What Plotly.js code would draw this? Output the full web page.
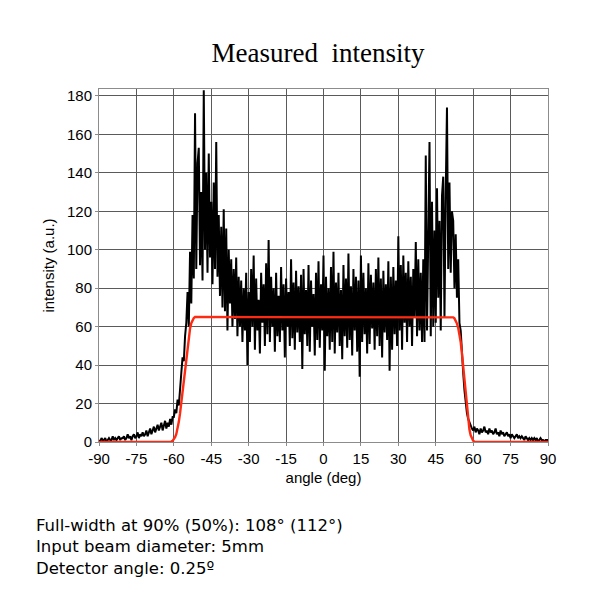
<!DOCTYPE html>
<html>
<head>
<meta charset="utf-8">
<script src="https://cdn.plot.ly/plotly-3.0.1.min.js"></script>
<style>html,body{margin:0;padding:0;background:#fff;}#chart{width:600px;height:600px;}</style>
</head>
<body>
<div id="chart"></div>
<script>
const angleStart = -90;
const angleStep = 0.5;
const measured = [
  // -90 .. -80.5
  1,0,2,1,1,2,0,1,2,1,1,3,1,2,1,2,3,1,2,2,
  // -80 .. -70.5
  3,1,2,4,2,3,1,3,4,2,3,5,2,4,3,5,3,4,6,3,
  // -70 .. -60.5
  5,7,4,6,8,5,7,9,6,8,10,6,9,11,7,10,8,12,9,13,
  // -60 .. -50.5
  13,17,15,22,19,30,36,44,42,55,62,78,60,99,72,118,85,171,90,145,
  // -50 .. -40.5
  153,92,130,84,183,100,140,88,150,96,125,82,135,90,156,86,118,76,112,70,
  // -40 .. -30.5
  121,68,111,58,100,72,95,60,90,64,96,55,86,60,84,52,80,58,88,40,
  // -30 .. -20.5
  78,52,90,60,97,48,85,58,74,46,88,62,82,50,93,56,105,52,86,60,
  // -20 .. -10.5
  80,47,88,55,76,52,91,58,82,44,85,60,78,50,95,54,83,48,89,57,
  // -10 .. -0.5
  81,52,87,38,90,56,79,50,92,47,84,60,77,45,88,53,94,49,82,58,
  // 0 .. 9.5
  97,37,86,55,80,48,91,52,99,46,83,57,88,50,79,43,92,55,85,49,
  // 10 .. 19.5
  98,53,81,45,90,58,86,47,84,34,97,52,88,56,80,46,93,51,87,59,
  // 20 .. 29.5
  83,48,90,55,96,50,85,44,89,57,82,53,94,37,86,48,91,56,84,50,
  // 30 .. 39.5
  107,58,92,48,97,62,88,52,94,60,86,50,90,65,104,55,95,58,88,52,
  // 40 .. 49.5
  95,52,149,58,118,156,55,125,60,110,62,132,75,115,58,128,138,65,130,174,
  // 50 .. 59.5
  90,135,88,120,115,80,108,75,95,62,58,44,36,27,20,15,12,10,8,7,
  // 60 .. 69.5
  6,8,5,7,6,4,7,5,6,8,5,6,4,7,5,6,4,5,7,4,
  // 70 .. 79.5
  5,3,6,4,5,3,4,5,3,4,2,4,3,2,3,4,2,3,2,3,
  // 80 .. 90
  2,1,3,2,1,2,1,2,1,2,1,2,0,1,2,1,1,0,1,1,1
];
const measuredAngles = measured.map((_, i) => angleStart + i * angleStep);

// Model (red) curve
const modelAngles = [-90,-61.5,-61,-60.5,-60,-59.5,-59,-58.5,-58,-57.5,-57,-56.5,-56,-55.5,-55,-54.5,-54,-53.5,-53,-52.5,-52,-51.5,
  51.5,52,52.5,53,53.5,54,54.5,55,55.5,56,56.5,57,57.5,58,58.5,59,59.5,60,60.5,61,90];
const modelValues = [0,0,0.2,0.6,1.3,2.5,4.2,7,10.5,15,20.5,26.5,33,39.5,45.5,51,55.5,59,61.8,63.6,64.5,65,
  65,64.8,64.3,63.2,61.6,59.4,56.5,52,46,39,31.5,24,17,11,6.5,3.5,1.7,0.7,0.2,0,0];

const xTicks = [-90,-75,-60,-45,-30,-15,0,15,30,45,60,75,90];
const yTicks = [0,20,40,60,80,100,120,140,160,180];
const titleText = 'Measured\u00a0\u00a0intensity';
const xTitle = 'angle (deg)';
const yTitle = 'intensity (a.u.)';
const notes = ['Full-width at 90% (50%): 108° (112°)', 'Input beam diameter: 5mm', 'Detector angle: 0.25º'];

const traces = [
  {x: measuredAngles, y: measured, type: 'scatter', mode: 'lines',
   line: {color: '#000000', width: 2}, hoverinfo: 'skip'},
  {x: modelAngles, y: modelValues, type: 'scatter', mode: 'lines',
   line: {color: '#ff2a12', width: 2.4}, hoverinfo: 'skip'}
];

const axisFont = {family: 'Liberation Sans, Arial, sans-serif', size: 15, color: '#000'};
const layout = {
  width: 600, height: 600,
  margin: {l: 99, r: 52, t: 89, b: 158},
  paper_bgcolor: '#fff', plot_bgcolor: '#fff',
  showlegend: false,
  title: {text: titleText, font: {family: 'Liberation Serif, Times New Roman, serif', size: 27, color: '#000'},
          x: 0.53, xref: 'container', xanchor: 'center', y: 0.912, yref: 'container', yanchor: 'middle'},
  xaxis: {range: [-90, 90], tickvals: xTicks, ticktext: xTicks.map(String), tickfont: axisFont,
          showgrid: true, gridcolor: '#5a5a5a', gridwidth: 1, zeroline: false,
          showline: true, linecolor: '#8c8c8c', linewidth: 1, mirror: true,
          ticks: 'outside', ticklen: 3, tickcolor: '#8c8c8c',
          title: {text: xTitle, font: axisFont, standoff: 6}},
  yaxis: {range: [0, 183.6], tickvals: yTicks, ticktext: yTicks.map(String), tickfont: axisFont,
          showgrid: true, gridcolor: '#5a5a5a', gridwidth: 1, zeroline: false,
          showline: true, linecolor: '#8c8c8c', linewidth: 1, mirror: true,
          ticks: 'outside', ticklen: 3, tickcolor: '#8c8c8c',
          title: {text: yTitle, font: axisFont, standoff: 8}},
  annotations: notes.map((t, i) => ({
    text: t, xref: 'paper', yref: 'paper', x: -0.145, y: -0.236 - i * 0.0607,
    xanchor: 'left', yanchor: 'middle', showarrow: false,
    font: {family: 'DejaVu Sans, Verdana, sans-serif', size: 16.5, color: '#000'}
  }))
};

Plotly.newPlot('chart', traces, layout, {staticPlot: true, displayModeBar: false});
</script>
</body>
</html>
